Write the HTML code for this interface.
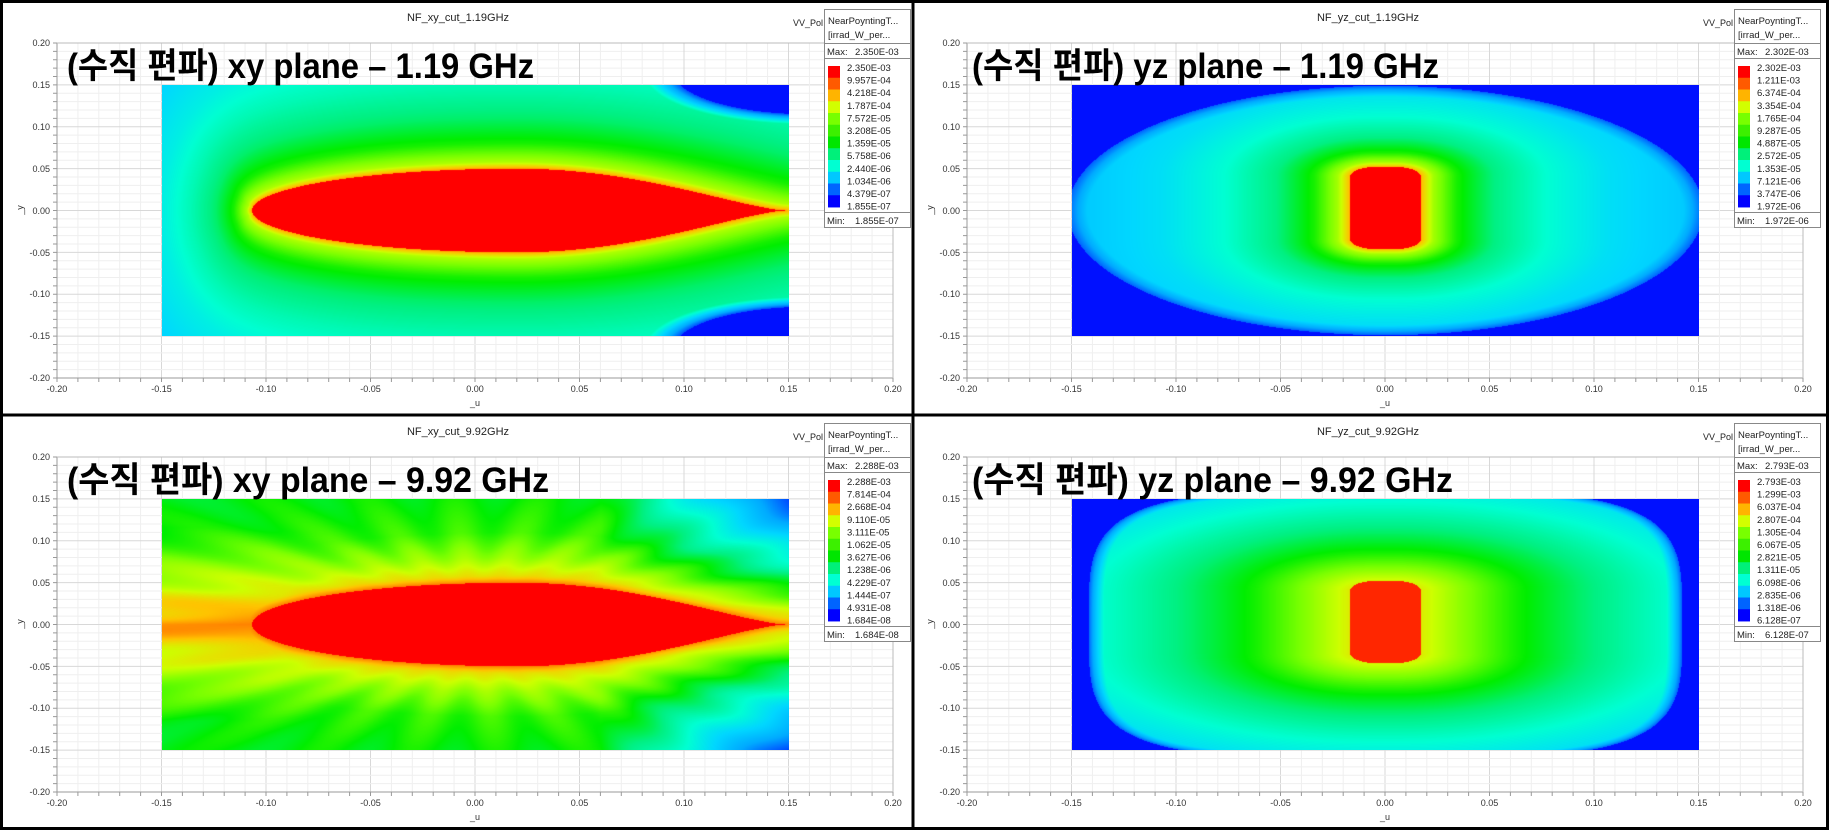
<!DOCTYPE html>
<html><head><meta charset="utf-8">
<style>
html,body{margin:0;padding:0;background:#fff;}
#wrap{position:relative;width:1829px;height:830px;overflow:hidden;background:#fff;}
svg,canvas{position:absolute;left:0;top:0;}
.t{font-family:"Liberation Sans",sans-serif;fill:#333;font-size:9px;}
.ti{font-family:"Liberation Sans",sans-serif;fill:#222;font-size:11px;}
.lg{font-family:"Liberation Sans",sans-serif;fill:#222;font-size:9.5px;}
.kr{font-family:"Liberation Sans","Noto Sans CJK KR",sans-serif;font-weight:bold;font-size:35px;fill:#000;}
</style></head><body>
<div id="wrap">
<svg id="grid" width="1829" height="830"></svg>
<canvas id="c0" width="627" height="251" style="left:162px;top:85px"></canvas>
<canvas id="c1" width="627" height="251" style="left:1072px;top:85px"></canvas>
<canvas id="c2" width="627" height="251" style="left:162px;top:499px"></canvas>
<canvas id="c3" width="627" height="251" style="left:1072px;top:499px"></canvas>
<svg width="1829" height="830">
<rect x="1.5" y="1.5" width="1826" height="827" fill="none" stroke="#000" stroke-width="3"/>
<line x1="913" y1="0" x2="913" y2="830" stroke="#000" stroke-width="3"/>
<line x1="0" y1="415" x2="1829" y2="415" stroke="#000" stroke-width="3"/>

<g>
<text class="ti" x="458" y="21" text-anchor="middle">NF_xy_cut_1.19GHz</text>
<text class="kr" x="67" y="78" textLength="467" lengthAdjust="spacingAndGlyphs">(수직 편파) xy plane – 1.19 GHz</text>
</g>
<g transform="translate(910,0)">
<text class="ti" x="458" y="21" text-anchor="middle">NF_yz_cut_1.19GHz</text>
<text class="kr" x="62" y="78" textLength="467" lengthAdjust="spacingAndGlyphs">(수직 편파) yz plane – 1.19 GHz</text>
</g>
<g transform="translate(0,414)">
<text class="ti" x="458" y="21" text-anchor="middle">NF_xy_cut_9.92GHz</text>
<text class="kr" x="67" y="78" textLength="482" lengthAdjust="spacingAndGlyphs">(수직 편파) xy plane – 9.92 GHz</text>
</g>
<g transform="translate(910,414)">
<text class="ti" x="458" y="21" text-anchor="middle">NF_yz_cut_9.92GHz</text>
<text class="kr" x="62" y="78" textLength="481" lengthAdjust="spacingAndGlyphs">(수직 편파) yz plane – 9.92 GHz</text>
</g>

<g class="t" text-anchor="end">
<text x="50" y="46">0.20</text><text x="50" y="88">0.15</text><text x="50" y="130">0.10</text><text x="50" y="172">0.05</text><text x="50" y="214">0.00</text><text x="50" y="256">-0.05</text><text x="50" y="297">-0.10</text><text x="50" y="339">-0.15</text><text x="50" y="381">-0.20</text>
<text x="960" y="46">0.20</text><text x="960" y="88">0.15</text><text x="960" y="130">0.10</text><text x="960" y="172">0.05</text><text x="960" y="214">0.00</text><text x="960" y="256">-0.05</text><text x="960" y="297">-0.10</text><text x="960" y="339">-0.15</text><text x="960" y="381">-0.20</text>
<text x="50" y="460">0.20</text><text x="50" y="502">0.15</text><text x="50" y="544">0.10</text><text x="50" y="586">0.05</text><text x="50" y="628">0.00</text><text x="50" y="670">-0.05</text><text x="50" y="711">-0.10</text><text x="50" y="753">-0.15</text><text x="50" y="795">-0.20</text>
<text x="960" y="460">0.20</text><text x="960" y="502">0.15</text><text x="960" y="544">0.10</text><text x="960" y="586">0.05</text><text x="960" y="628">0.00</text><text x="960" y="670">-0.05</text><text x="960" y="711">-0.10</text><text x="960" y="753">-0.15</text><text x="960" y="795">-0.20</text>
</g>
<g class="t" text-anchor="middle">
<text x="57" y="392">-0.20</text><text x="161.5" y="392">-0.15</text><text x="266" y="392">-0.10</text><text x="370.5" y="392">-0.05</text><text x="475" y="392">0.00</text><text x="579.5" y="392">0.05</text><text x="684" y="392">0.10</text><text x="788.5" y="392">0.15</text><text x="893" y="392">0.20</text>
<text x="967" y="392">-0.20</text><text x="1071.5" y="392">-0.15</text><text x="1176" y="392">-0.10</text><text x="1280.5" y="392">-0.05</text><text x="1385" y="392">0.00</text><text x="1489.5" y="392">0.05</text><text x="1594" y="392">0.10</text><text x="1698.5" y="392">0.15</text><text x="1803" y="392">0.20</text>
<text x="57" y="806">-0.20</text><text x="161.5" y="806">-0.15</text><text x="266" y="806">-0.10</text><text x="370.5" y="806">-0.05</text><text x="475" y="806">0.00</text><text x="579.5" y="806">0.05</text><text x="684" y="806">0.10</text><text x="788.5" y="806">0.15</text><text x="893" y="806">0.20</text>
<text x="967" y="806">-0.20</text><text x="1071.5" y="806">-0.15</text><text x="1176" y="806">-0.10</text><text x="1280.5" y="806">-0.05</text><text x="1385" y="806">0.00</text><text x="1489.5" y="806">0.05</text><text x="1594" y="806">0.10</text><text x="1698.5" y="806">0.15</text><text x="1803" y="806">0.20</text>
<text x="475" y="406">_u</text><text x="1385" y="406">_u</text><text x="475" y="820">_u</text><text x="1385" y="820">_u</text>
<text transform="translate(23,210) rotate(-90)">_y</text>
<text transform="translate(933,210) rotate(-90)">_y</text>
<text transform="translate(23,624) rotate(-90)">_y</text>
<text transform="translate(933,624) rotate(-90)">_y</text>
</g>

<g>
<text class="lg" x="793" y="26" style="font-size:9px">VV_Pol</text>
<rect x="824.5" y="9.5" width="86" height="218" fill="#fff" stroke="#888"/>
<line x1="824.5" y1="43.5" x2="910.5" y2="43.5" stroke="#888"/>
<line x1="824.5" y1="58.5" x2="910.5" y2="58.5" stroke="#888"/>
<line x1="824.5" y1="212.5" x2="910.5" y2="212.5" stroke="#888"/>
<text class="lg" x="828" y="24">NearPoyntingT...</text>
<text class="lg" x="828" y="38">[irrad_W_per...</text>
<text class="lg" x="827" y="55">Max:</text><text class="lg" x="855" y="55">2.350E-03</text>
<text class="lg" x="827" y="224">Min:</text><text class="lg" x="855" y="224">1.855E-07</text>
<g class="lg"><text x="847" y="71">2.350E-03</text><text x="847" y="83.6">9.957E-04</text><text x="847" y="96.2">4.218E-04</text><text x="847" y="108.8">1.787E-04</text><text x="847" y="121.4">7.572E-05</text><text x="847" y="134">3.208E-05</text><text x="847" y="146.6">1.359E-05</text><text x="847" y="159.2">5.758E-06</text><text x="847" y="171.8">2.440E-06</text><text x="847" y="184.4">1.034E-06</text><text x="847" y="197">4.379E-07</text><text x="847" y="209.6">1.855E-07</text></g>
</g>
<g transform="translate(910,0)">
<text class="lg" x="793" y="26" style="font-size:9px">VV_Pol</text>
<rect x="824.5" y="9.5" width="86" height="218" fill="#fff" stroke="#888"/>
<line x1="824.5" y1="43.5" x2="910.5" y2="43.5" stroke="#888"/>
<line x1="824.5" y1="58.5" x2="910.5" y2="58.5" stroke="#888"/>
<line x1="824.5" y1="212.5" x2="910.5" y2="212.5" stroke="#888"/>
<text class="lg" x="828" y="24">NearPoyntingT...</text>
<text class="lg" x="828" y="38">[irrad_W_per...</text>
<text class="lg" x="827" y="55">Max:</text><text class="lg" x="855" y="55">2.302E-03</text>
<text class="lg" x="827" y="224">Min:</text><text class="lg" x="855" y="224">1.972E-06</text>
<g class="lg"><text x="847" y="71">2.302E-03</text><text x="847" y="83.6">1.211E-03</text><text x="847" y="96.2">6.374E-04</text><text x="847" y="108.8">3.354E-04</text><text x="847" y="121.4">1.765E-04</text><text x="847" y="134">9.287E-05</text><text x="847" y="146.6">4.887E-05</text><text x="847" y="159.2">2.572E-05</text><text x="847" y="171.8">1.353E-05</text><text x="847" y="184.4">7.121E-06</text><text x="847" y="197">3.747E-06</text><text x="847" y="209.6">1.972E-06</text></g>
</g>
<g transform="translate(0,414)">
<text class="lg" x="793" y="26" style="font-size:9px">VV_Pol</text>
<rect x="824.5" y="9.5" width="86" height="218" fill="#fff" stroke="#888"/>
<line x1="824.5" y1="43.5" x2="910.5" y2="43.5" stroke="#888"/>
<line x1="824.5" y1="58.5" x2="910.5" y2="58.5" stroke="#888"/>
<line x1="824.5" y1="212.5" x2="910.5" y2="212.5" stroke="#888"/>
<text class="lg" x="828" y="24">NearPoyntingT...</text>
<text class="lg" x="828" y="38">[irrad_W_per...</text>
<text class="lg" x="827" y="55">Max:</text><text class="lg" x="855" y="55">2.288E-03</text>
<text class="lg" x="827" y="224">Min:</text><text class="lg" x="855" y="224">1.684E-08</text>
<g class="lg"><text x="847" y="71">2.288E-03</text><text x="847" y="83.6">7.814E-04</text><text x="847" y="96.2">2.668E-04</text><text x="847" y="108.8">9.110E-05</text><text x="847" y="121.4">3.111E-05</text><text x="847" y="134">1.062E-05</text><text x="847" y="146.6">3.627E-06</text><text x="847" y="159.2">1.238E-06</text><text x="847" y="171.8">4.229E-07</text><text x="847" y="184.4">1.444E-07</text><text x="847" y="197">4.931E-08</text><text x="847" y="209.6">1.684E-08</text></g>
</g>
<g transform="translate(910,414)">
<text class="lg" x="793" y="26" style="font-size:9px">VV_Pol</text>
<rect x="824.5" y="9.5" width="86" height="218" fill="#fff" stroke="#888"/>
<line x1="824.5" y1="43.5" x2="910.5" y2="43.5" stroke="#888"/>
<line x1="824.5" y1="58.5" x2="910.5" y2="58.5" stroke="#888"/>
<line x1="824.5" y1="212.5" x2="910.5" y2="212.5" stroke="#888"/>
<text class="lg" x="828" y="24">NearPoyntingT...</text>
<text class="lg" x="828" y="38">[irrad_W_per...</text>
<text class="lg" x="827" y="55">Max:</text><text class="lg" x="855" y="55">2.793E-03</text>
<text class="lg" x="827" y="224">Min:</text><text class="lg" x="855" y="224">6.128E-07</text>
<g class="lg"><text x="847" y="71">2.793E-03</text><text x="847" y="83.6">1.299E-03</text><text x="847" y="96.2">6.037E-04</text><text x="847" y="108.8">2.807E-04</text><text x="847" y="121.4">1.305E-04</text><text x="847" y="134">6.067E-05</text><text x="847" y="146.6">2.821E-05</text><text x="847" y="159.2">1.311E-05</text><text x="847" y="171.8">6.098E-06</text><text x="847" y="184.4">2.835E-06</text><text x="847" y="197">1.318E-06</text><text x="847" y="209.6">6.128E-07</text></g>
</g>
<g id="sw"></g>
</svg>
</div>
<script>
(function(){
var NS="http://www.w3.org/2000/svg";
var grid=document.getElementById('grid');
var offs=[[0,0],[910,0],[0,414],[910,414]];
function ln(x1,y1,x2,y2,c,w){var l=document.createElementNS(NS,'line');l.setAttribute('x1',x1);l.setAttribute('y1',y1);l.setAttribute('x2',x2);l.setAttribute('y2',y2);l.setAttribute('stroke',c);l.setAttribute('stroke-width',w||1);grid.appendChild(l);}
offs.forEach(function(o){
 var ox=o[0],oy=o[1];
 for(var i=0;i<=40;i++){
  var x=ox+57+i*836/40, major=(i%5==0);
  ln(x,oy+43,x,oy+378,major?'#d8d8d8':'#efefef',1);
  var y=oy+43+i*335/40;
  ln(ox+57,y,ox+893,y,major?'#d8d8d8':'#efefef',1);
  ln(ox+53,y,ox+57,y,'#999',1);
  ln(x,oy+378,x,oy+382,'#999',1);
 }
 ln(ox+57,oy+43,ox+57,oy+378,'#999',1);
 ln(ox+57,oy+378,ox+893,oy+378,'#999',1);
 ln(ox+893,oy+43,ox+893,oy+378,'#bbb',1);
 ln(ox+57,oy+43,ox+893,oy+43,'#bbb',1);
});
var stops=[[0,[0,0,255]],[0.1,[0,80,255]],[0.2,[0,170,255]],[0.3,[0,215,255]],[0.4,[0,255,210]],[0.5,[0,240,130]],[0.6,[0,238,0]],[0.7,[120,255,0]],[0.78,[205,255,0]],[0.85,[255,195,0]],[0.92,[255,100,0]],[1,[255,0,0]]];
function cmap(L){if(L<=0)return stops[0][1];if(L>=1)return stops[stops.length-1][1];
 for(var i=1;i<stops.length;i++){if(L<=stops[i][0]){var a=stops[i-1],b=stops[i],t=(L-a[0])/(b[0]-a[0]);return [a[1][0]+(b[1][0]-a[1][0])*t,a[1][1]+(b[1][1]-a[1][1])*t,a[1][2]+(b[1][2]-a[1][2])*t];}}}
var sw=document.getElementById('sw');
var sc=['#ff0000','#ff5a00','#ffb400','#d2ff00','#78ff00','#3cf000','#00e600','#00f07a','#00ffd2','#00c8ff','#0064ff','#0000ff'];
offs.forEach(function(o){for(var i=0;i<12;i++){var r=document.createElementNS(NS,'rect');r.setAttribute('x',o[0]+828);r.setAttribute('y',o[1]+66+i*11.75);r.setAttribute('width',12);r.setAttribute('height',12.2);r.setAttribute('fill',sc[i]);sw.appendChild(r);}});
function interp(tab,d){if(d<=tab[0][0])return tab[0][1];for(var i=1;i<tab.length;i++){if(d<=tab[i][0]){var t=(d-tab[i-1][0])/(tab[i][0]-tab[i-1][0]);return tab[i-1][1]+(tab[i][1]-tab[i-1][1])*t;}}return tab[tab.length-1][1];}
function h(u){if(u<-0.107||u>0.148)return -1;var t;if(u<0.02){t=(u-0.02)/0.127;return 0.05*Math.sqrt(Math.max(0,1-t*t));}t=(u-0.02)/0.128;return 0.05*Math.pow(Math.max(0,1-t*t),1.4);}
var pts=[];for(var i=0;i<=300;i++){var u=-0.107+i*0.255/300;pts.push([u,Math.max(0,h(u))]);}
function lensDist(u,v,k){var av=Math.abs(v),m=1e9;for(var i=0;i<pts.length;i++){var dx=(u-pts[i][0])*k,dy=av-pts[i][1];var q=dx*dx+dy*dy;if(q<m)m=q;}return Math.sqrt(m);}
function ss(a,b,x){var t=Math.min(1,Math.max(0,(x-a)/(b-a)));return t*t*(3-2*t);}
function rbox(u,v){var cx=0,cy=0.003,ax=0.017,ay=0.049,r=0.012;var qx=Math.abs(u-cx)-ax+r,qy=Math.abs(v-cy)-ay+r;var ox=Math.max(qx,0),oy=Math.max(qy,0);return {d:Math.hypot(ox,oy)+Math.min(Math.max(qx,qy),0)-r,ox:ox,oy:oy};}
var fields=[
function(u,v){var hh=h(u);if(hh>=0&&Math.abs(v)<=hh)return 1.0;
 var k=1+2.5*ss(-0.02,-0.12,u);var d=lensDist(u,v,k);
 var L=interp([[0,0.88],[0.008,0.75],[0.03,0.62],[0.06,0.52],[0.1,0.44],[0.15,0.36],[0.3,0.2]],d);
 var e=Math.hypot((u-0.16)/0.065,(Math.abs(v)-0.165)/0.05);
 if(e<1)return 0.02;L=Math.min(L,0.1+(e-1)*1.5);return L;},
function(u,v){var r=Math.hypot(u/0.152,v/0.149);if(r>1)return 0.02;var b=rbox(u,v);if(b.d<=0)return 1;
 var L=interp([[0,0.86],[0.006,0.74],[0.017,0.62],[0.035,0.5],[0.06,0.4],[0.09,0.32],[0.15,0.24]],b.d);
 return Math.min(L,0.12+(1-r)*2.5);},
function(u,v){var hh=h(u);if(hh>=0&&Math.abs(v)<=hh)return 1.0;var d=lensDist(u,v,1);
 var L=interp([[0,0.9],[0.008,0.82],[0.03,0.73],[0.06,0.64],[0.1,0.6],[0.2,0.55]],d);
 if(u<-0.05){var w=ss(-0.05,-0.1,u);L=Math.max(L,(0.9-2.5*Math.abs(v)-0.3*Math.max(0,-(u+0.1)))*w+L*(1-w));}
 L-=42*Math.max(0,u-0.06)*Math.max(0,Math.abs(v)-0.02);
 var th=Math.atan2(v,u);L+=0.025*Math.sin(th*24)*Math.min(1,d/0.04);
 return Math.max(0.01,Math.min(0.97,L));},
function(u,v){var s=Math.pow(Math.abs(u)/0.142,4)+Math.pow(Math.abs(v)/0.16,4);if(s>1)return 0.02;var b=rbox(u,v);if(b.d<=0)return 0.97;
 var d=b.d;if(b.ox>0||b.oy>0)d=Math.hypot(b.ox*0.8,b.oy);
 var L=interp([[0,0.86],[0.01,0.8],[0.025,0.72],[0.045,0.62],[0.07,0.52],[0.1,0.42],[0.13,0.33],[0.17,0.25]],d);
 return Math.min(L,0.12+(1-s)*1.5);}
];
for(var p=0;p<4;p++){var cv=document.getElementById('c'+p),ctx=cv.getContext('2d');var W=627,H=251;var img=ctx.createImageData(W,H);var f=fields[p];
 for(var y=0;y<H;y++){var v=0.15-(y+0.5)/H*0.3;for(var x=0;x<W;x++){var u=-0.15+(x+0.5)/W*0.3;var c=cmap(f(u,v));var idx=(y*W+x)*4;img.data[idx]=c[0];img.data[idx+1]=c[1];img.data[idx+2]=c[2];img.data[idx+3]=255;}}
 ctx.putImageData(img,0,0);}
})();
</script>
</body></html>
